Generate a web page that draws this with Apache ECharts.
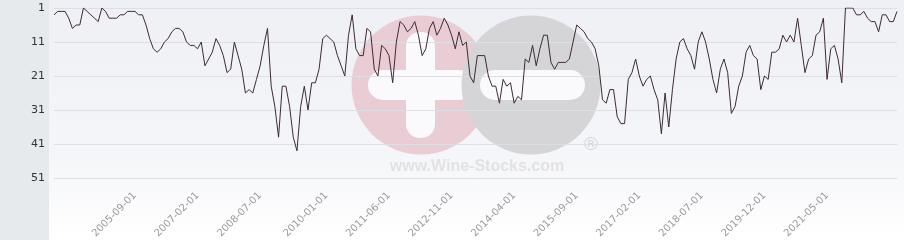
<!DOCTYPE html>
<html>
<head>
<meta charset="utf-8">
<script src="https://cdn.jsdelivr.net/npm/echarts@6/dist/echarts.min.js"></script>
<style>
html,body{margin:0;padding:0;background:#ffffff;}
#chart{width:904px;height:240px;
background:linear-gradient(to right,#e7eaed 0px,#e7eaed 49px,rgba(0,0,0,0) 49px),
linear-gradient(to bottom,#eef0f5 0%,#f5f6f9 65%,#ffffff 100%);}
</style>
</head>
<body>
<div id="chart"></div>
<script>
// Monthly ranking values (rank 1 = best), first month 2003-11
const rankValues = [
  3,2,2,2,4,7,6,6,1,2, 3,4,5,1,2,4,4,4,3,3,
  2,2,2,3,3,6,10,13,14,13, 11,10,8,7,7,8,11,12,12,13,
  11,18,16,14,10,12,15,20,19,11, 15,19,26,25,26,22,18,12,7,24,
  30,39,24,24,30,39,43,30,24,31, 23,23,19,10,9,10,11,15,18,21,
  9,3,13,15,15,7,8,19,21,12, 13,15,23,11,5,6,8,7,5,9,
  15,13,7,5,9,7,4,6,9,13, 8,12,11,21,23,15,15,15,21,24,
  24,29,22,24,23,29,27,28,16,17, 12,18,13,9,9,17,19,17,17,17,
  16,11,6,7,8,10,11,13,18,28, 29,25,25,33,35,35,22,20,16,21,
  24,22,21,25,28,38,26,36,25,16, 11,10,13,15,19,11,8,11,16,22,
  26,19,16,20,32,30,24,21,14,12, 15,16,25,21,22,14,14,13,9,11,
  9,11,4,12,20,16,15,9,8,4, 22,13,12,16,23,1,1,1,3,3,
  2,4,5,5,8,3,3,5,5,2
];
const firstYear = 2003;
const firstMonth = 11;
const tickLabels = ['2005-09-01','2007-02-01','2008-07-01','2010-01-01','2011-06-01','2012-11-01',
  '2014-04-01','2015-09-01','2017-02-01','2018-07-01','2019-12-01','2021-05-01'];
const yTicks = [1, 11, 21, 31, 41, 51];

const categories = [];
for (let k = 0; k < rankValues.length; k++) {
  const m = firstMonth - 1 + k;
  const y = firstYear + Math.floor(m / 12);
  const mm = (m % 12) + 1;
  categories.push(y + '-' + (mm < 10 ? '0' : '') + mm + '-01');
}

const chart = echarts.init(document.getElementById('chart'), null, {renderer: 'canvas'});
const font = 'DejaVu Sans';
chart.setOption({
  animation: false,
  backgroundColor: 'transparent',
  grid: {left: 54, right: 7, top: 8, bottom: 62, containLabel: false, outerBoundsMode: 'none'},
  graphic: {
    elements: [
      {type: 'circle', z: -10, silent: true, shape: {cx: 421, cy: 85, r: 69.5}, style: {fill: '#eacdd4'}},
      {type: 'rect', z: -9, silent: true, shape: {x: 406, y: 32, width: 29, height: 106, r: 14}, style: {fill: '#fafafc'}},
      {type: 'rect', z: -9, silent: true, shape: {x: 368, y: 70, width: 106, height: 30, r: 15}, style: {fill: '#fafafc'}},
      {type: 'circle', z: -8, silent: true, shape: {cx: 531, cy: 85, r: 69.5}, style: {fill: '#d5d5d8'}},
      {type: 'rect', z: -7, silent: true, shape: {x: 480, y: 70, width: 105, height: 30, r: 15}, style: {fill: '#fafafc'}},
      {type: 'text', z: -7, silent: true, style: {text: '®', x: 591, y: 145, font: '19px "Liberation Sans"', fill: '#d6d6d8', align: 'center', verticalAlign: 'middle'}},
      {type: 'text', z: -7, silent: true, style: {text: 'www.Wine-Stocks.com', x: 477, y: 167, font: 'bold 16px "Liberation Sans"', fill: '#e2e2e4', align: 'center', verticalAlign: 'middle'}}
    ]
  },
  xAxis: {
    type: 'category',
    data: categories,
    boundaryGap: false,
    axisLine: {show: false},
    axisTick: {show: false},
    splitLine: {show: false},
    axisLabel: {
      rotate: 45,
      margin: 16,
      color: '#9a9a9a',
      fontSize: 10,
      fontFamily: font,
      interval: function (idx, val) { return tickLabels.indexOf(val) >= 0; }
    }
  },
  yAxis: {
    type: 'value',
    inverse: true,
    min: yTicks[0],
    max: yTicks[yTicks.length - 1],
    interval: 10,
    axisLine: {show: false},
    axisTick: {show: false},
    splitLine: {show: true, lineStyle: {color: '#dedfe3', width: 1}},
    axisLabel: {color: '#333333', fontSize: 11, fontFamily: font, margin: 9}
  },
  series: [{
    type: 'line',
    data: rankValues,
    showSymbol: false,
    symbol: 'none',
    lineStyle: {color: '#3d2a35', width: 1},
    z: 5
  }]
});
</script>
</body>
</html>
